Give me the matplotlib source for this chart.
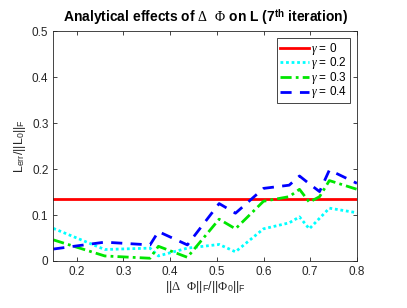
import matplotlib
matplotlib.use("Agg")
import matplotlib.pyplot as plt

plt.rcParams['font.family'] = ['Liberation Sans', 'DejaVu Sans']
plt.rcParams['mathtext.fontset'] = 'custom'
plt.rcParams['mathtext.rm'] = 'Liberation Serif'
plt.rcParams['mathtext.it'] = 'Liberation Serif:italic'
plt.rcParams['mathtext.sf'] = 'Liberation Sans'
plt.rcParams['mathtext.bf'] = 'Liberation Sans:bold'

x = [0.15, 0.26, 0.357, 0.375, 0.437, 0.505, 0.54, 0.60, 0.655, 0.677, 0.698, 0.72, 0.741, 0.80]
g0 = [0.135] * len(x)
g02 = [0.071, 0.025, 0.028, 0.011, 0.028, 0.036, 0.020, 0.070, 0.083, 0.096, 0.070, 0.093, 0.115, 0.105]
g03 = [0.046, 0.011, 0.006, 0.032, 0.008, 0.091, 0.070, 0.130, 0.140, 0.156, 0.128, 0.140, 0.175, 0.156]
g04 = [0.026, 0.041, 0.035, 0.064, 0.035, 0.125, 0.104, 0.158, 0.165, 0.185, 0.168, 0.151, 0.198, 0.169]
labels = [r'$\gamma$ = 0', r'$\gamma$ = 0.2', r'$\gamma$ = 0.3', r'$\gamma$ = 0.4']

fig = plt.figure(figsize=(4.07, 3.08), dpi=100)
ax = fig.add_axes([0.131, 0.1526, 0.746, 0.746])

ax.plot(x, g0, color=(1, 0, 0), lw=2, ls='-', label=labels[0])
ax.plot(x, g02, color=(0, 1, 1), lw=2, ls=(0, (1, 1)), label=labels[1])
ax.plot(x, g03, color=(0, 0.9, 0), lw=2, ls=(0, (4, 1.5, 1, 1.5)), label=labels[2])
ax.plot(x, g04, color=(0, 0, 1), lw=2, ls=(0, (4, 3)), label=labels[3])

ax.set_xlim(0.15, 0.8)
ax.set_ylim(0, 0.5)
ax.set_xticks([0.2, 0.3, 0.4, 0.5, 0.6, 0.7, 0.8])
ax.set_xticklabels(['0.2', '0.3', '0.4', '0.5', '0.6', '0.7', '0.8'])
ax.set_yticks([0, 0.1, 0.2, 0.3, 0.4, 0.5])
ax.set_yticklabels(['0', '0.1', '0.2', '0.3', '0.4', '0.5'])
ax.tick_params(direction='in', top=True, right=True, labelsize=8.5, colors='#262626', length=3, width=0.6)
for s in ax.spines.values():
    s.set_color('#262626')
    s.set_linewidth(0.6)

ax.set_title(r'Analytical effects of $\Delta$  $\Phi$ on L (7$^{\mathbf{th}}$ iteration)',
             fontsize=10, fontweight='bold', pad=6)
ax.set_xlabel(r'||$\Delta$  $\Phi$||$_\mathsf{F}$/||$\Phi_\mathsf{0}$||$_\mathsf{F}$',
              fontsize=9, labelpad=1, color='#262626')
ax.set_ylabel(r'L$_\mathsf{err}$/||L$_\mathsf{0}$||$_\mathsf{F}$', fontsize=9, labelpad=3, color='#262626')

leg = ax.legend(loc='upper right', fontsize=8.5, handlelength=2.5, handletextpad=0.2,
                handleheight=0.5, borderpad=0.2, labelspacing=-0.12, fancybox=False, framealpha=1,
                edgecolor='#262626', borderaxespad=0.6)
leg.get_frame().set_linewidth(0.6)

fig.savefig('out.png', dpi=100)
